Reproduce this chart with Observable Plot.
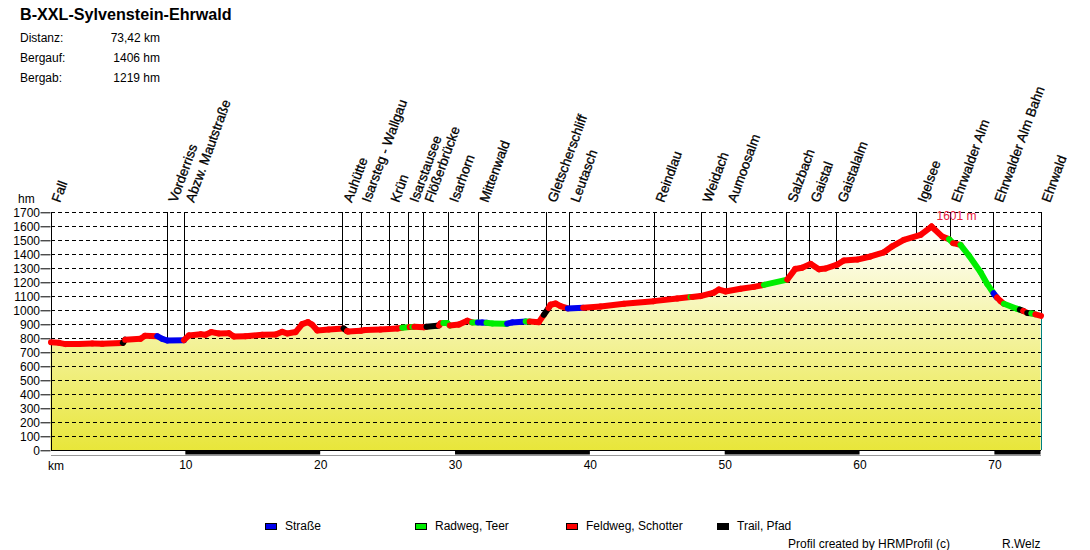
<!DOCTYPE html>
<html>
<head>
<meta charset="utf-8">
<script src="https://cdn.jsdelivr.net/npm/d3@7"></script>
<script src="https://cdn.jsdelivr.net/npm/@observablehq/plot@0.6"></script>
<style>
html,body{margin:0;padding:0;background:#fff;}
#page{position:relative;width:1090px;height:550px;overflow:hidden;font:12px "Liberation Sans",Arial,sans-serif;color:#000;}
#page svg{position:absolute;left:0;top:0;}
.t{position:absolute;white-space:nowrap;line-height:14px;}
.sw{position:absolute;width:10px;height:5px;border:1px solid #000;}
</style>
</head>
<body>
<div id="page"></div>
<script>
const profileKm = [0,0.59,1.08,2.07,3.06,3.8,5.25,5.33,5.5,6.64,6.96,7.88,8.25,8.62,9.86,10.23,11.1,11.46,11.9,12.45,13.2,13.57,14.43,15.67,16.66,17.15,17.52,18.14,18.63,19.05,19.37,19.75,20.6,21.7,21.95,22.05,22.96,23.3,24.44,25.68,26.05,26.6,26.8,26.95,27.65,27.85,28.64,28.77,28.89,29.1,29.38,29.58,30.25,30.87,31.24,31.66,31.98,32.3,32.72,33.71,33.83,34.2,35.2,35.5,36.18,36.55,36.9,37.05,37.42,37.79,38.33,39.47,40.76,42.49,44.71,46.44,47.43,47.55,48.17,49.16,49.53,50.02,51.14,52.12,52.87,54.6,55.2,55.7,56.33,56.95,57.44,58.3,58.8,59.8,60.78,61.77,62.39,63.25,64.49,65.3,66.1,66.6,66.9,67.45,68.07,68.94,69.43,69.9,70.15,70.42,70.67,71.66,71.85,72.1,72.4,72.7,73,73.42];
const profileElev = [776,771,762,762,767,764,770,771,793,800,821,819,800,788,790,824,833,829,848,838,840,817,819,829,831,850,838,848,905,919,900,860,867,874,855,852,857,863,866,874,879,884,885,886,883,886,893,895,910,912,912,895,902,929,917,917,917,914,910,907,908,917,924,923,919,971,1020,1043,1052,1033,1017,1021,1031,1050,1069,1088,1098,1099,1105,1130,1152,1138,1157,1171,1185,1223,1299,1307,1335,1297,1302,1330,1359,1366,1388,1418,1461,1507,1542,1602,1530,1512,1483,1471,1395,1276,1192,1125,1095,1069,1050,1014,1008,1000,985,982,975,964];

const surfaceStartKm = [0,5.33,5.5,7.88,9.86,21.7,21.95,26.05,26.6,26.8,26.95,27.85,28.77,29.1,29.58,31.24,31.66,32.3,33.83,35.2,35.5,36.55,36.9,38.33,39.47,47.43,47.55,52.87,54.6,66.6,66.9,67.45,69.9,70.15,70.67,71.85,72.1,72.4,72.7,73];
const surfaceStartCode = ["F","T","F","S","F","T","F","R","F","R","F","T","F","R","F","R","S","R","S","R","F","T","F","S","F","R","F","R","F","R","F","R","S","F","R","T","F","T","R","F"];

const surfaceCodes = ["S","R","F","T"];
const surfaceNames = ["Straße","Radweg, Teer","Feldweg, Schotter","Trail, Pfad"];
const surfaceColors = ["#0000ee","#00ee00","#ff0000","#000000"];

const waypointNames = ["Fall","Vorderriss","Abzw. Mautstraße","Auhütte","Isarsteg - Wallgau","Krün","Isarstausee","Flößerbrücke","Isarhorn","Mittenwald","Gletscherschliff","Leutasch","Reindlau","Weidach","Aumoosalm","Salzbach","Gaistal","Gaistalalm","Igelsee","Ehrwalder Alm","Ehrwalder Alm Bahn","Ehrwald"];
const waypointKm = [0,8.66,9.93,21.64,23.0,25.13,26.54,27.65,29.5,31.73,36.77,38.48,44.78,48.27,50.12,54.57,56.28,58.28,64.21,66.73,69.92,73.42];
const waypointElev = [776,790,800,873,860,870,883,883,900,917,1000,1017,1070,1107,1140,1223,1333,1330,1535,1505,1122,964];

const elevTicks = d3.range(0,1701,100);
const kmTicks = [10,20,30,40,50,60,70];
const kmBands = [[10,20],[30,40],[50,60],[70,73.42]];
const totalKm = 73.42;
const peak = {km:65.3, elev:1700, label:"1601 m"};

const surfaceAt = km => surfaceStartCode[d3.bisectRight(surfaceStartKm,km)-1];
const profile = profileKm.map((k,i)=>({km:k,elev:profileElev[i]}));
const steps = profile.slice(0,-1).map((d,i)=>({x1:d.km,y1:d.elev,x2:profile[i+1].km,y2:profile[i+1].elev,surface:surfaceAt(d.km)}));
const waypoints = waypointNames.map((n,i)=>({name:n,km:waypointKm[i],elev:waypointElev[i]}));

const chart = Plot.plot({
  width:1090,height:550,
  marginTop:212.3,marginBottom:99.7,marginLeft:50.5,marginRight:49.5,
  style:{fontFamily:'"Liberation Sans",Arial,sans-serif',fontSize:"12px",background:"#fff",color:"#000"},
  x:{domain:[0,totalKm],axis:null},
  y:{domain:[0,1700],axis:null},
  color:{domain:surfaceCodes,range:surfaceColors},
  marks:[
    Plot.areaY(profile,{x:"km",y:"elev",fill:"url(#profileFill)"}),
    Plot.ruleY(elevTicks.filter(d=>d>0),{stroke:"#000",strokeWidth:1,strokeDasharray:"4 3",shapeRendering:"crispEdges"}),
    Plot.axisY({ticks:elevTicks,tickSize:10,tickPadding:1,label:null,tickFormat:d=>String(d),fontSize:12}),
    Plot.axisX({ticks:kmTicks,tickSize:0,tickPadding:10,label:null,tickFormat:d=>String(d),fontSize:12}),
    Plot.rect(kmBands,{x1:d=>d[0],x2:d=>d[1],y1:0,y2:-30,fill:"#000"}),
    Plot.ruleY([0],{stroke:"#000",strokeWidth:1,shapeRendering:"crispEdges"}),
    Plot.ruleY([-30],{stroke:"#999",strokeWidth:1,shapeRendering:"crispEdges"}),
    Plot.ruleX([0],{y1:0,y2:1700,stroke:"#000",shapeRendering:"crispEdges"}),
    Plot.ruleX([totalKm],{y1:0,y2:profileElev[profileElev.length-1],stroke:"#008080",shapeRendering:"crispEdges"}),
    Plot.ruleX(waypoints.slice(1),{x:"km",y1:"elev",y2:1700,stroke:"#000",shapeRendering:"crispEdges"}),
    Plot.link(steps,{x1:"x1",y1:"y1",x2:"x2",y2:"y2",stroke:"surface",strokeWidth:6,strokeLinecap:"round"}),
    Plot.text(waypoints,{x:"km",y:1700,text:"name",rotate:-70,textAnchor:"start",dx:5,dy:-11,fontSize:13.5,fill:"#000",stroke:"#000",strokeWidth:0.3}),
    Plot.text([peak],{x:"km",y:"elev",text:"label",textAnchor:"start",dx:5,dy:3,fontSize:12,fill:"#e8203c"})
  ]
});

const defs = d3.select(chart).insert("defs",":first-child");
const grad = defs.append("linearGradient").attr("id","profileFill").attr("x1",0).attr("x2",0).attr("y1",0).attr("y2",1);
grad.append("stop").attr("offset","0%").attr("stop-color","#ffffff");
grad.append("stop").attr("offset","100%").attr("stop-color","#e8e63a");

const page = document.getElementById("page");
page.appendChild(chart);

function label(text,left,top,opts={}){
  const e=document.createElement("div");e.className="t";e.textContent=text;
  e.style.left=left+"px";e.style.top=top+"px";
  Object.assign(e.style,opts);page.appendChild(e);return e;
}
label("B-XXL-Sylvenstein-Ehrwald",20,6,{font:'bold 16.15px/16px "Liberation Sans",Arial,sans-serif'});
[["Distanz:","73,42 km"],["Bergauf:","1406 hm"],["Bergab:","1219 hm"]].forEach((r,i)=>{
  label(r[0],20,31+20*i);
  label(r[1],60,31+20*i,{width:"100px",textAlign:"right"});
});
label("hm",18,192);
label("km",48,459);
const legendX=[265,415,566,717];
surfaceNames.forEach((n,i)=>{
  const s=document.createElement("div");s.className="sw";
  s.style.left=legendX[i]+"px";s.style.top="523px";s.style.background=surfaceColors[i];
  page.appendChild(s);
  label(n,legendX[i]+20,519);
});
label("Profil created by HRMProfil (c)",788,537);
label("R.Welz",1002,537);
</script>
</body>
</html>
